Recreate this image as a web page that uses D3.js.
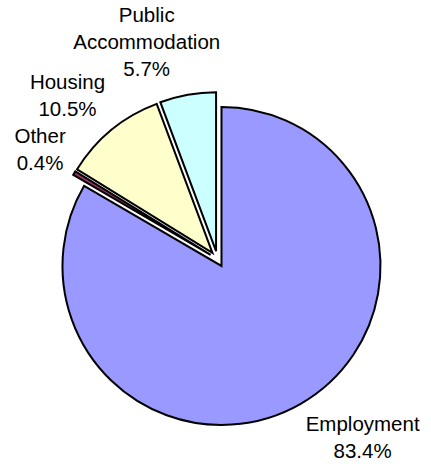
<!DOCTYPE html>
<html>
<head>
<meta charset="utf-8">
<script src="https://cdn.jsdelivr.net/npm/d3@7"></script>
<style>
  html, body { margin: 0; padding: 0; background: #fff; }
  svg { display: block; }
  text { font-family: "Liberation Sans", Arial, sans-serif; font-size: 20.5px; fill: #000; }
</style>
</head>
<body>
<div id="chart"></div>
<script>
// chart data, clockwise from 12 o'clock
const categories = ["Employment", "Other", "Housing", "Public Accommodation"];
const shares = [83.4, 0.4, 10.5, 5.7];
const colors = ["#9999ff", "#993366", "#ffffcc", "#ccffff"];

const width = 431, height = 464;
const cx = 217.5, cy = 259;     // pie centre
const radius = 159;
const explode = 8;              // how far each slice is pulled out
const labelGap = 10;
const lineH = 27;

const svg = d3.select("#chart").append("svg")
    .attr("width", width)
    .attr("height", height);

const chart = svg.append("g")
    .attr("transform", `translate(${cx},${cy})`);

const pieGenerator = d3.pie()
    .sort(null)
    .value(d => d.value);

const arcGenerator = d3.arc()
    .innerRadius(0)
    .outerRadius(radius);

const rows = categories.map((c, i) => ({ name: c, value: shares[i], color: colors[i] }));
const arcs = pieGenerator(rows);

// direction of the middle of a slice
const dirOf = d => {
    const a = (d.startAngle + d.endAngle) / 2;
    return [Math.sin(a), -Math.cos(a)];
};

chart.selectAll("path.slice")
    .data(arcs)
    .join("path")
    .classed("slice", true)
    .attr("transform", d => {
        const [dx, dy] = dirOf(d);
        return `translate(${dx * explode},${dy * explode})`;
    })
    .attr("d", arcGenerator)
    .attr("fill", d => d.data.color)
    .attr("stroke", "#000")
    .attr("stroke-width", 2)
    .attr("stroke-linejoin", "miter");

// labels placed outside, Excel "best fit" style
const format = d => d.toFixed(1) + "%";
const clamp = v => Math.max(-1, Math.min(1, v));

const labels = chart.selectAll("g.label")
    .data(arcs)
    .join("g")
    .classed("label", true);

labels.each(function (d) {
    const g = d3.select(this);
    const lines = d.data.name.split(" ").concat([format(d.data.value)]);
    const texts = g.selectAll("text")
        .data(lines)
        .join("text")
        .attr("text-anchor", "middle")
        .text(t => t);

    let w = 0;
    texts.each(function () { w = Math.max(w, this.getComputedTextLength()); });
    const asc = 19, desc = 9;
    const h = asc + lineH * (lines.length - 1) + desc;

    const [dx, dy] = dirOf(d);
    const ra = radius + explode + labelGap;
    const ax = dx * ra, ay = dy * ra;
    const mx = ax + (w / 2) * clamp(3 * dx);
    const my = ay + (h / 2) * clamp(1.15 * dy);
    const top = my - h / 2;

    texts.attr("x", mx)
        .attr("y", (t, i) => top + asc + i * lineH);
});
</script>
</body>
</html>
